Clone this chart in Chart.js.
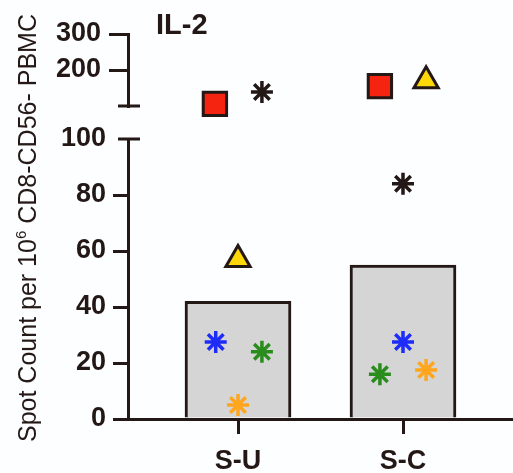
<!DOCTYPE html>
<html>
<head>
<meta charset="utf-8">
<script src="https://cdn.jsdelivr.net/npm/chart.js@4.4.1/dist/chart.umd.min.js"></script>
<style>
	body { margin: 0; background: #fdfeff; }
	#wrap { position: relative; width: 513px; height: 473px; }
	#wrap canvas { position: absolute; left: 0; top: 0; }
	.title { position: absolute; left: 156px; top: 10px; font: bold 29px "Liberation Sans", Arial, sans-serif; line-height: 29px; color: #231815; }
	.ytitle { position: absolute; left: 28.5px; top: 228px; transform: translate(-50%, -50%) rotate(-90deg);
		white-space: nowrap; font: 25px "Liberation Sans", Arial, sans-serif; line-height: 25px; color: #231815; }
	.ytitle .sup { font-size: 15px; position: relative; top: -10px; }
</style>
</head>
<body>
<div id="wrap">
	<canvas id="lowChart" width="513" height="473"></canvas>
	<canvas id="highChart" width="513" height="473"></canvas>
	<div class="title">IL-2</div>
	<div class="ytitle">Spot Count per 10<span class="sup">6</span> CD8-CD56- PBMC</div>
</div>
<script>
// 데이터
const categories = ['S-U', 'S-C'];
const barMeans = [42, 55];
const redSquare = [106, 155];
const yellowTriangle = [57, 170];
const blackStar = [139, 84];
const blueStar = [27.5, 27.5];
const greenStar = [24, 16];
const orangeStar = [5, 17.5];
const lowTicks = [0, 20, 40, 60, 80, 100];
const highTicks = [100, 200, 300];

const BREAK = 100;
const dark = '#231815';

// 마커 스타일 (jitter = 카테고리 안에서 옆으로 비켜 놓는 정도)
const markers = [
	{ values: redSquare, style: 'rect', radius: 16.5, fill: '#f42410', line: dark, width: 3, jitter: [-0.14, -0.14] },
	{ values: yellowTriangle, style: 'triangle', radius: 14, fill: '#ffd80a', line: dark, width: 3, jitter: [0, 0.14] },
	{ values: blackStar, style: 'star', radius: 11, fill: dark, line: dark, width: 3.5, jitter: [0.145, 0] },
	{ values: blueStar, style: 'star', radius: 11, fill: '#1e2cf7', line: '#1e2cf7', width: 3.5, jitter: [-0.135, 0] },
	{ values: greenStar, style: 'star', radius: 11, fill: '#2a8c1c', line: '#2a8c1c', width: 3.5, jitter: [0.145, -0.14] },
	{ values: orangeStar, style: 'star', radius: 11, fill: '#ffa61e', line: '#ffa61e', width: 3.5, jitter: [0, 0.14] },
];

function markerSets(high){
	return markers.map((m) => ({
		type: 'scatter',
		data: m.values
			.map((v, i) => ({ x: i + 1 + m.jitter[i], y: v }))
			.filter((p) => high ? p.y > BREAK : p.y <= BREAK),
		pointStyle: m.style,
		pointRadius: m.radius,
		pointBackgroundColor: m.fill,
		pointBorderColor: m.line,
		pointBorderWidth: m.width,
		clip: false,
		order: 1
	}));
}

// 축 끊김 표시
const breakCaps = {
	id: 'breakCaps',
	afterDraw(chart){
		const y = chart.scales.y;
		const py = y.getPixelForValue(BREAK);
		const ctx = chart.ctx;
		ctx.save();
		ctx.strokeStyle = dark;
		ctx.lineWidth = 3;
		ctx.beginPath();
		ctx.moveTo(y.right - 10, py);
		ctx.lineTo(y.right + 12, py);
		ctx.stroke();
		ctx.restore();
	}
};

const tickFont = { family: '"Liberation Sans", Arial, sans-serif', size: 27, weight: 'bold' };
const xRange = { min: 1 / 3, max: 8 / 3 };

function yScale(min, max, list, tickLength, pad, hide100){
	return {
		type: 'linear', min: min, max: max,
		afterFit: (s) => { s.width = 128; },
		afterBuildTicks: (s) => { s.ticks = list.map((v) => ({ value: v })); },
		border: { display: true, color: dark, width: 3 },
		grid: { drawOnChartArea: false, drawTicks: true, tickLength: tickLength, lineWidth: 3,
			color: (c) => (c.tick && c.tick.value === BREAK) ? 'rgba(0,0,0,0)' : dark },
		ticks: { font: tickFont, color: dark, padding: pad,
			callback: (v) => (hide100 && v === BREAK) ? '' : v }
	};
}

Chart.defaults.animation = false;

new Chart(document.getElementById('lowChart'), {
	type: 'bar',
	data: {
		datasets: [{
			type: 'bar',
			data: categories.map((c, i) => ({ x: i + 1, y: barMeans[i] })),
			backgroundColor: '#d5d5d5',
			borderColor: dark,
			borderWidth: 3,
			barThickness: 106,
			order: 10
		}].concat(markerSets(false))
	},
	options: {
		responsive: false,
		events: [],
		layout: { autoPadding: false, padding: { top: 139, left: 0, right: 0, bottom: 0 } },
		plugins: { legend: { display: false }, tooltip: { enabled: false } },
		scales: {
			x: {
				type: 'linear', min: xRange.min, max: xRange.max, offset: false,
				afterFit: (s) => { s.height = 54; },
				afterBuildTicks: (s) => { s.ticks = categories.map((c, i) => ({ value: i + 1 })); },
				border: { display: true, color: dark, width: 3 },
				grid: { offset: false, drawOnChartArea: false, drawTicks: true, tickLength: 15, lineWidth: 3, color: dark },
				ticks: { font: tickFont, color: dark, padding: 11, maxRotation: 0,
					callback: (v) => categories[v - 1] }
			},
			y: yScale(0, 100, lowTicks, 15, 7, false)
		}
	},
	plugins: [breakCaps]
});

new Chart(document.getElementById('highChart'), {
	type: 'scatter',
	data: { datasets: markerSets(true) },
	options: {
		responsive: false,
		events: [],
		layout: { autoPadding: false, padding: { top: 34, left: 0, right: 0, bottom: 367 } },
		plugins: { legend: { display: false }, tooltip: { enabled: false } },
		scales: {
			x: { type: 'linear', display: false, min: xRange.min, max: xRange.max },
			y: yScale(100, 300, highTicks, 19, 8, true)
		}
	},
	plugins: [breakCaps]
});
</script>
</body>
</html>
